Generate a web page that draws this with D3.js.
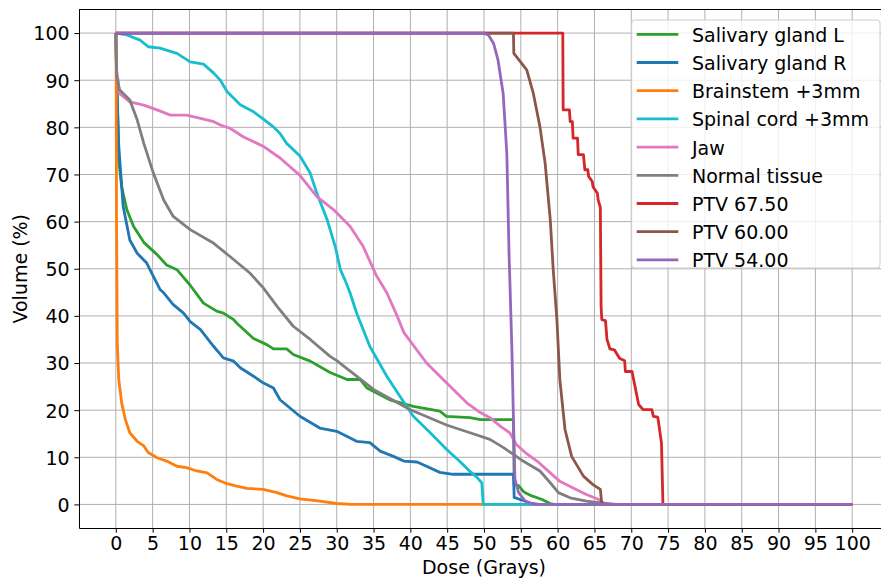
<!DOCTYPE html>
<html>
<head>
<meta charset="utf-8">
<script src="https://cdn.jsdelivr.net/npm/d3@7"></script>
<style>
  body { margin: 0; background: #fff; }
  text { font-family: "DejaVu Sans", sans-serif; }
</style>
</head>
<body>
<div id="dvh"></div>
<script>
// dose-volume histograms, [dose Gy, volume %]
var salivaryL = [[0,100],[0.15,90],[0.4,73],[0.8,67.4],[1.5,62.5],[2.4,59],[3.8,55.6],[5.6,53],[6.9,50.8],[8.3,49.8],[10.1,46.5],[11.9,42.7],[13.7,41],[14.6,40.6],[16,39.2],[16.4,38.5],[18.7,35.2],[20.5,33.9],[21.4,33],[23.2,33],[24.1,31.8],[26.4,30.4],[29.1,28],[31.4,26.5],[33.2,26.5],[34.1,24.7],[37.2,22.2],[40.4,20.8],[44,19.8],[44.9,18.7],[48.1,18.4],[49.5,18],[54,18],[54.1,4.2],[54.7,4],[55.3,2.8],[55.8,2.3],[56.5,1.8],[57.8,1.1],[59,0.2],[59.5,0],[100,0]];
var salivaryR = [[0,100],[0.15,88],[0.4,76],[0.6,71.7],[1,63.2],[1.9,56.1],[2.9,53.3],[4.2,51.2],[5.1,48.4],[6,45.6],[6.5,44.9],[7.8,42.4],[9.2,40.6],[10.1,38.8],[11.5,37.1],[13.3,33.5],[14.6,31.1],[16,30.4],[16.9,29],[18.7,27.2],[20,25.8],[21.4,24.7],[22.3,22.2],[25,18.7],[27.7,16.2],[30,15.5],[32.7,13.4],[34.5,13.1],[35.9,11.3],[37.7,10.2],[39.1,9.2],[40.9,9],[42.2,8.1],[44,6.8],[45.8,6.4],[54,6.4],[54.1,1.5],[55,1],[56.3,0.3],[57.5,0],[100,0]];
var brainstem = [[0,100],[0.05,90],[0.1,60],[0.2,34],[0.4,26.5],[0.8,21.5],[1.3,18],[1.9,15.2],[2.9,13.4],[3.8,12.4],[4.4,11],[5.6,9.9],[6.9,9.2],[8.3,8.1],[9.6,7.8],[11,7.1],[12.4,6.7],[13.7,5.3],[15.1,4.4],[16.4,3.9],[17.8,3.4],[20,3.2],[21.9,2.5],[23.2,1.8],[25,1.2],[27.7,0.7],[30,0.2],[32,0],[100,0]];
var spinalCord = [[0,100],[1.5,99.6],[3.3,98.5],[4.4,97.1],[6,96.8],[8.3,95.7],[10.1,93.9],[11.9,93.4],[13.3,91.5],[14.2,90],[15.1,87.6],[16.9,84.8],[18.7,83.3],[20,81.8],[21.4,80.1],[22.3,78.7],[23.2,76.6],[25,73.9],[26.4,70.3],[27.3,66],[28.7,60.4],[29.8,54.7],[30.5,49.8],[31.1,47.7],[31.8,44.9],[32.7,40.6],[34.5,33.5],[36.8,27.2],[38.6,22.9],[40.4,18.7],[42.7,15.2],[44.9,11.7],[46.8,9],[48.1,7],[49,5.8],[49.7,4.6],[49.9,0],[100,0]];
var jaw = [[0,100],[0.1,92],[0.3,90],[0.5,87.2],[1.9,85.4],[3.8,84.7],[5.6,83.7],[7.4,82.6],[9.6,82.6],[11.5,81.9],[13.3,81.2],[14.2,80.5],[15.5,79.8],[17.3,78],[20,76],[22.3,73.5],[25,69.8],[27.3,65.3],[29.6,62.5],[31.8,59],[33.6,54.7],[35.4,48.5],[36.8,44.9],[38.2,40],[39.1,36.5],[42.2,30],[44.9,25.8],[47.7,21.5],[49.5,19.5],[50.8,18.4],[52.2,16.6],[53.5,15.2],[54.4,12.7],[55.6,11],[57.2,9.2],[59,6.7],[60.3,4.9],[62.1,3.5],[63.9,2.1],[65.5,1.1],[66.5,0],[100,0]];
var normalTissue = [[0,100],[0.1,91],[0.5,88],[1.9,85.8],[2.9,81.6],[3.8,76.6],[5.1,70.3],[6.5,64.6],[7.8,61.1],[10.1,58.3],[13.3,55.4],[15.5,52.6],[18.2,49.1],[20,46],[21.9,42],[24.1,37.8],[26.4,35],[29.1,31.4],[30,30.5],[35,24.4],[40,20.1],[45,16.8],[48.1,15.2],[50.8,13.8],[52.6,12.1],[54,10.6],[55.3,9.2],[57.6,7.1],[59,4.6],[60.1,2.5],[61.7,1.4],[63.9,0.7],[66.2,0.3],[68,0],[100,0]];
var ptv6750 = [[0,100],[60.7,100],[60.75,83.7],[61.6,83.7],[61.7,81.2],[62,81.2],[62.1,77.7],[62.7,77.7],[62.8,74.2],[63.5,74.2],[63.7,71],[64.1,71],[64.2,69.6],[64.7,68.5],[64.8,67.4],[65.4,66],[65.5,64.6],[65.8,63],[65.9,42],[66,39.2],[66.5,39],[66.7,35],[67.1,33],[67.7,32.8],[68.4,31],[69.1,30.5],[69.2,28.2],[70.1,28.2],[70.5,25.1],[71,21.2],[71.6,20.1],[72.8,20.1],[73,18.7],[73.6,18.5],[74.1,13.1],[74.3,0],[100,0]];
var ptv6000 = [[0,100],[54,100],[54.05,95.7],[54.4,95],[55.8,92.2],[56.7,87.2],[57.6,80.1],[58.3,72.4],[59,60.4],[59.4,49.8],[59.9,39.2],[60.3,26.5],[61,15.9],[61.9,10.2],[63.5,6],[64.8,4.2],[65.8,3.2],[66,0],[100,0]];
var ptv5400 = [[0,100],[49.9,100],[50.6,99.6],[51.3,97.8],[51.9,94.3],[52.6,87.2],[53.1,74.5],[53.4,53.3],[53.8,32.2],[54,18],[54.2,5.3],[54.7,2.5],[55.6,0.7],[56.7,0],[100,0]];

var names = ["Salivary gland L", "Salivary gland R", "Brainstem +3mm", "Spinal cord +3mm", "Jaw", "Normal tissue", "PTV 67.50", "PTV 60.00", "PTV 54.00"];
var colors = ["#2ca02c", "#1f77b4", "#ff7f0e", "#17becf", "#e377c2", "#7f7f7f", "#d62728", "#8c564b", "#9467bd"];
var series = [salivaryL, salivaryR, brainstem, spinalCord, jaw, normalTissue, ptv6750, ptv6000, ptv5400];

var xTicks = d3.range(0, 101, 5);
var yTicks = d3.range(0, 101, 10);

var fontSize = "19px";

// axes box runs past the right edge of the picture, like the original
var margin = {top: 9.5, right: -8, bottom: 55, left: 79},
    W = 881, H = 583,
    width = W - margin.left - margin.right,
    height = H - margin.top - margin.bottom;

var svg = d3.select("#dvh")
  .append("svg")
    .attr("width", W)
    .attr("height", H)
  .append("g")
    .attr("transform", "translate(" + margin.left + "," + margin.top + ")");

var x = d3.scaleLinear().domain([-5, 105]).range([0, width]);
var y = d3.scaleLinear().domain([-5, 105]).range([height, 0]);

// grid
svg.append("g").selectAll("line").data(xTicks).enter().append("line")
    .attr("x1", function(d) { return x(d); }).attr("x2", function(d) { return x(d); })
    .attr("y1", 0).attr("y2", height)
    .style("stroke", "#b0b0b0").style("stroke-width", 1);
svg.append("g").selectAll("line").data(yTicks).enter().append("line")
    .attr("y1", function(d) { return y(d); }).attr("y2", function(d) { return y(d); })
    .attr("x1", 0).attr("x2", width)
    .style("stroke", "#b0b0b0").style("stroke-width", 1);

// axes
var xAxis = svg.append("g")
    .attr("transform", "translate(0," + height + ")")
    .call(d3.axisBottom(x).tickValues(xTicks).tickSize(4.7).tickPadding(4.7).tickSizeOuter(0));
var yAxis = svg.append("g")
    .call(d3.axisLeft(y).tickValues(yTicks).tickSize(4.7).tickPadding(4.7).tickSizeOuter(0));
[xAxis, yAxis].forEach(function(a) {
  a.selectAll("text").style("font-size", fontSize).style("fill", "#000").attr("font-family", null);
  a.selectAll(".tick line").style("stroke", "#000").style("stroke-width", 1);
  a.select(".domain").style("stroke", "#000").style("stroke-width", 1);
});
xAxis.selectAll("text").attr("dy", "0.68em");
yAxis.selectAll("text").attr("dy", "0.36em");
svg.append("line").attr("x1", 0).attr("x2", width).attr("y1", 0).attr("y2", 0)
    .style("stroke", "#000").style("stroke-width", 1);
svg.append("line").attr("x1", width).attr("x2", width).attr("y1", 0).attr("y2", height)
    .style("stroke", "#000").style("stroke-width", 1);

// labels
svg.append("text")
    .attr("x", x(50)).attr("y", height + 46)
    .attr("text-anchor", "middle").style("font-size", fontSize)
    .text("Dose (Grays)");
svg.append("text")
    .attr("transform", "translate(" + (27 - margin.left) + "," + (height / 2) + ") rotate(-90)")
    .attr("text-anchor", "middle").style("font-size", fontSize)
    .text("Volume (%)");

// curves
var line = d3.line()
    .x(function(d) { return x(d[0]); })
    .y(function(d) { return y(d[1]); });

svg.append("g").selectAll("path").data(series).enter().append("path")
    .attr("d", line)
    .attr("fill", "none")
    .attr("stroke", function(d, i) { return colors[i]; })
    .style("stroke-width", 2.8)
    .style("stroke-linejoin", "round");

// legend
var lg = svg.append("g").attr("transform", "translate(" + (631.7 - margin.left) + "," + (20 - margin.top) + ")");
lg.append("rect")
    .attr("width", 248.3).attr("height", 248)
    .attr("rx", 3).attr("ry", 3)
    .style("fill", "#fff").style("fill-opacity", 0.8)
    .style("stroke", "#cccccc").style("stroke-width", 1);
var rows = lg.selectAll("g.row").data(names).enter().append("g")
    .attr("transform", function(d, i) { return "translate(0," + (14.3 + i * 28.2) + ")"; });
rows.append("line")
    .attr("x1", 5).attr("x2", 46.6)
    .attr("stroke", function(d, i) { return colors[i]; })
    .style("stroke-width", 2.8);
rows.append("text")
    .attr("x", 60.3).attr("y", 7.5)
    .style("font-size", fontSize)
    .text(function(d) { return d; });
</script>
</body>
</html>
